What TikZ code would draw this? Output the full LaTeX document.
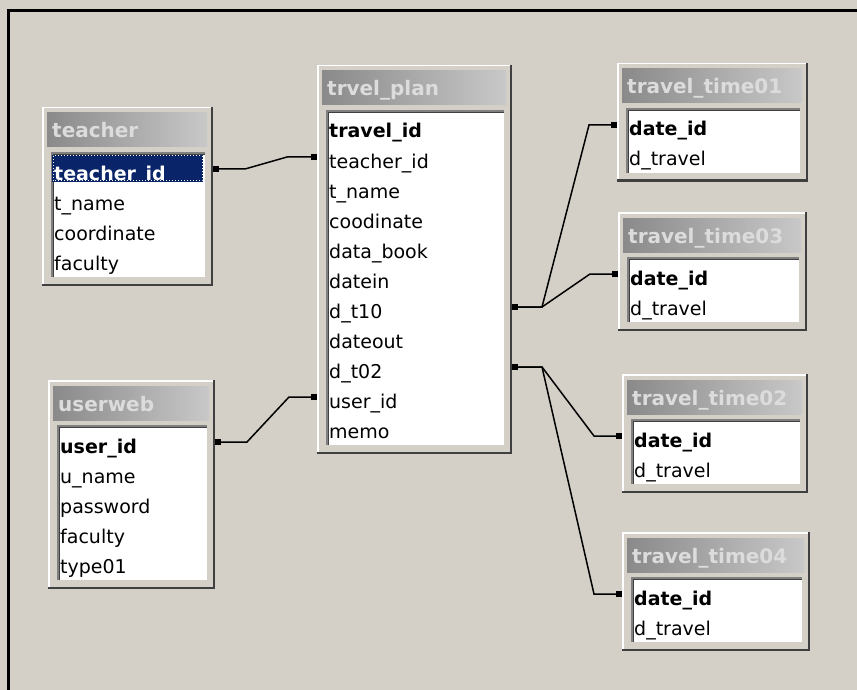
\documentclass[tikz,border=0pt]{standalone}
\usepackage{fontspec}
\setmainfont{DejaVu Sans}
\usetikzlibrary{arrows.meta,calc}
\definecolor{winbg}{HTML}{D4D0C8}
\definecolor{selblue}{HTML}{0A246A}
\definecolor{shadowc}{HTML}{404040}
\definecolor{midgray}{HTML}{808080}
\definecolor{titleL}{HTML}{8A8A8A}
\definecolor{titleR}{HTML}{C8C8C8}
\definecolor{titletxt}{HTML}{DCDCDC}
\tikzset{
  framebox/.style={fill=winbg, draw=none, inner sep=0pt, outer sep=0pt, anchor=north west},
  titlebar/.style={left color=titleL, right color=titleR, draw=none, inner sep=0pt, outer sep=0pt, anchor=north west},
  titletext/.style={text=titletxt, font=\fontsize{20}{24}\selectfont\bfseries, inner sep=0pt, anchor=base west},
  listbox/.style={fill=white, draw=none, inner sep=0pt, outer sep=0pt, anchor=north west},
  rowtext/.style={text=black, font=\fontsize{19}{22}\selectfont, inner sep=0pt, anchor=base west},
  selbox/.style={fill=selblue, draw=none, inner sep=0pt, outer sep=0pt, anchor=north west},
  link/.style={draw=black, line width=1.5pt, {Square[length=6pt,width=6pt]}-{Square[length=6pt,width=6pt]}},
}
% #1 name, #2 L, #3 T, #4 R, #5 nrows, #6 title, #7 rows, #8 highlighted row (0 none)
\newcommand\dbtable[8]{%
  \pgfmathsetmacro\tW{#4-#2}%
  \pgfmathsetmacro\tH{66+30*(#5-1)+23}%
  \node[framebox, minimum width=\tW pt, minimum height=\tH pt] (#1) at (#2,#3) {};
  \draw[white, line width=1.5pt] ([xshift=0.75pt]#1.south west) -- ([xshift=0.75pt,yshift=-0.75pt]#1.north west) -- ([yshift=-0.75pt]#1.north east);
  \draw[shadowc, line width=2.5pt] ([xshift=-1.25pt]#1.north east) -- ([xshift=-1.25pt,yshift=1.25pt]#1.south east) -- ([yshift=1.25pt]#1.south west);
  \pgfmathsetmacro\bW{\tW-11}%
  \node[titlebar, minimum width=\bW pt, minimum height=34pt] (#1-bar) at (#2+5,#3+6) {};
  \node[titletext] (#1-title) at (#2+10,#3+31) {#6};
  \pgfmathsetmacro\lW{\tW-17}%
  \pgfmathsetmacro\lH{\tH-54}%
  \node[listbox, minimum width=\lW pt, minimum height=\lH pt] (#1-list) at (#2+9,#3+45) {};
  \draw[midgray, line width=2pt] ([xshift=1pt]#1-list.south west) -- ([xshift=1pt,yshift=-1pt]#1-list.north west) -- ([yshift=-1pt]#1-list.north east);
  \draw[shadowc, line width=1pt] ([xshift=2.5pt]#1-list.south west) -- ([xshift=2.5pt,yshift=-2.5pt]#1-list.north west) -- ([yshift=-2.5pt]#1-list.north east);
  \ifnum#8>0
    \pgfmathsetmacro\sW{\tW-20}%
    \node[selbox, minimum width=\sW pt, minimum height=27pt] (#1-sel) at (#2+10,#3+48+30*#8-30) {};
    \draw[white, dotted, line width=1pt] ([xshift=1pt,yshift=-1pt]#1-sel.north west) rectangle ([xshift=-1pt,yshift=1pt]#1-sel.south east);
  \fi
  \foreach \r [count=\i] in {#7} {
    \node[rowtext] (#1-r\i) at (#2+12,#3+73+30*\i-30) {\r};
  }
}
\begin{document}
\begin{tikzpicture}[x=1pt,y=-1pt]
  \useasboundingbox (0,0) rectangle (857,690);
  \fill[winbg] (0,0) rectangle (857,690);
  \draw[black, line width=2.5pt] (8.7,690) -- (8.7,10.3) -- (857,10.3);

  \dbtable{teacher}{42}{107}{213}{4}{teacher}{\textcolor{white}{\textbf{teacher\_id}},t\_name,coordinate,faculty}{1}
  \dbtable{plan}{317}{65}{512}{11}{trvel\_plan}{\textbf{travel\_id},teacher\_id,t\_name,coodinate,data\_book,datein,d\_t10,dateout,d\_t02,user\_id,memo}{0}
  \dbtable{userweb}{48}{380}{215}{5}{userweb}{\textbf{user\_id},u\_name,password,faculty,type01}{0}
  \dbtable{tt01}{617}{63}{808}{2}{travel\_time01}{\textbf{date\_id},d\_travel}{0}
  \dbtable{tt03}{618}{212}{807}{2}{travel\_time03}{\textbf{date\_id},d\_travel}{0}
  \dbtable{tt02}{622}{374}{808}{2}{travel\_time02}{\textbf{date\_id},d\_travel}{0}
  \dbtable{tt04}{622}{532}{810}{2}{travel\_time04}{\textbf{date\_id},d\_travel}{0}

  \coordinate (teacher-out) at ($(teacher.east |- teacher-r1.base)+(0,-11)$);
  \coordinate (plan-in1) at ($(plan.west |- plan-r2.base)+(0,-11)$);
  \coordinate (userweb-out) at ($(userweb.east |- userweb-r1.base)+(0,-11)$);
  \coordinate (plan-in2) at ($(plan.west |- plan-r10.base)+(0,-11)$);
  \coordinate (plan-out1) at ($(plan.east |- plan-r7.base)+(0,-11)$);
  \coordinate (plan-out2) at ($(plan.east |- plan-r9.base)+(0,-11)$);
  \coordinate (tt01-in) at ($(tt01.west |- tt01-r1.base)+(0,-11)$);
  \coordinate (tt03-in) at ($(tt03.west |- tt03-r1.base)+(0,-11)$);
  \coordinate (tt02-in) at ($(tt02.west |- tt02-r1.base)+(0,-11)$);
  \coordinate (tt04-in) at ($(tt04.west |- tt04-r1.base)+(0,-11)$);

  \draw[link] (teacher-out) -- ++(32,0) -- ($(plan-in1)+(-30,0)$) -- (plan-in1);
  \draw[link] (userweb-out) -- ++(32,0) -- ($(plan-in2)+(-28,0)$) -- (plan-in2);
  \draw[link] (plan-out1) -- ++(30,0) -- ($(tt01-in)+(-28,0)$) -- (tt01-in);
  \draw[link] (plan-out1) -- ++(30,0) -- ($(tt03-in)+(-28,0)$) -- (tt03-in);
  \draw[link] (plan-out2) -- ++(30,0) -- ($(tt02-in)+(-28,0)$) -- (tt02-in);
  \draw[link] (plan-out2) -- ++(30,0) -- ($(tt04-in)+(-28,0)$) -- (tt04-in);
\end{tikzpicture}
\end{document}
